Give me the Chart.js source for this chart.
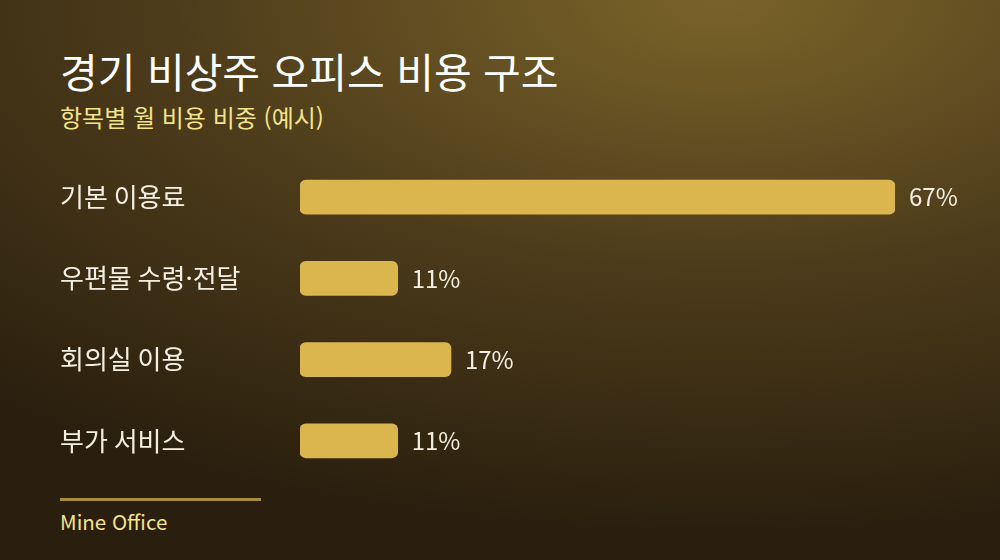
<!DOCTYPE html>
<html lang="ko">
<head>
<meta charset="utf-8">
<script src="https://cdn.jsdelivr.net/npm/chart.js@4"></script>
<style>
  html, body { margin: 0; padding: 0; }
  body {
    width: 1000px; height: 560px; overflow: hidden; position: relative;
    font-family: "Noto Sans CJK KR", "Noto Sans", sans-serif;
    background: radial-gradient(ellipse 110% 95% at 72% 0%, #7a6329 0%, #4d3c1b 50%, #2a1f0e 100%);
  }
  h1 { position: absolute; left: 60px; top: 40px; margin: 0; font-size: 41px; font-weight: 400; color: #ffffff; }
  .sub { position: absolute; left: 60px; top: 99px; font-size: 24px; color: #f3e38a; }
  .wrap { position: absolute; left: 0; top: 141px; width: 1000px; height: 356px; }
  .rule { position: absolute; left: 60px; top: 498px; width: 201px; height: 3px; background: #a98c3c; }
  .foot { position: absolute; left: 60px; top: 506px; font-size: 20.5px; color: #f3e38a; }
</style>
</head>
<body>
<h1>경기 비상주 오피스 비용 구조</h1>
<div class="sub">항목별 월 비용 비중 (예시)</div>
<div class="wrap"><canvas id="chart"></canvas></div>
<div class="rule"></div>
<div class="foot">Mine Office</div>
<script>
const categories = ['기본 이용료', '우편물 수령·전달', '회의실 이용', '부가 서비스'];
const shares = [67, 11, 17, 11];

// value labels at the end of each bar
const valueLabels = {
    id: 'valueLabels',
    afterDatasetsDraw(chart) {
        const c = chart.ctx;
        c.save();
        c.font = '24px "Noto Sans CJK KR", "Noto Sans", sans-serif';
        c.fillStyle = '#f4efe2';
        c.textBaseline = 'middle';
        chart.getDatasetMeta(0).data.forEach((bar, i) => {
            c.fillText(shares[i] + '%', bar.x + 14, bar.y);
        });
        c.restore();
    }
};

new Chart(document.getElementById('chart'), {
    type: 'bar',
    data: {
        labels: categories,
        datasets: [{
            data: shares,
            backgroundColor: '#dbb64f',
            borderRadius: 6,
            borderSkipped: false,
            barThickness: 34
        }]
    },
    options: {
        indexAxis: 'y',
        responsive: true,
        maintainAspectRatio: false,
        animation: false,
        layout: { padding: { left: 60, right: 105, top: 0, bottom: 0 } },
        plugins: { legend: { display: false }, tooltip: { enabled: false } },
        scales: {
            x: { display: false, min: 0, max: 67 },
            y: {
                grid: { display: false },
                border: { display: false },
                afterFit(axis) { axis.width = 240; },
                ticks: {
                    crossAlign: 'far',
                    color: '#f4efe2',
                    padding: 0,
                    font: { size: 26, family: '"Noto Sans CJK KR", "Noto Sans", sans-serif' }
                }
            }
        }
    },
    plugins: [valueLabels]
});
</script>
</body>
</html>
